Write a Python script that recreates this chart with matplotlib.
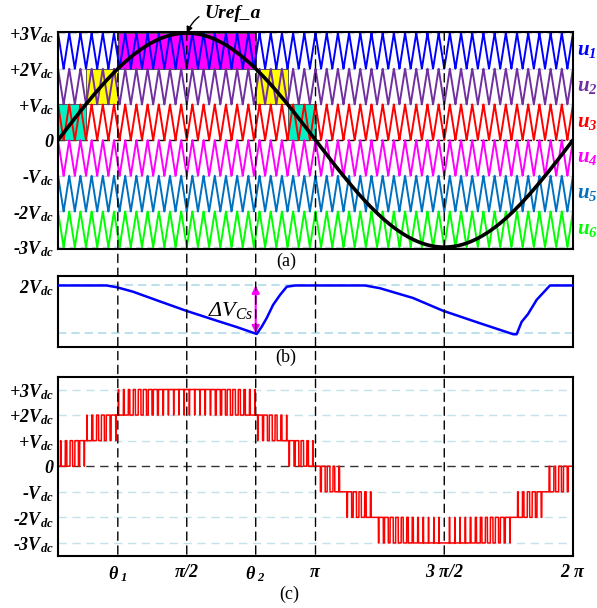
import numpy as np
import matplotlib
matplotlib.use('Agg')
import matplotlib.pyplot as plt
from matplotlib.patches import ConnectionPatch
import matplotlib.transforms as mtransforms

plt.rcParams['font.family'] = ['Liberation Serif', 'DejaVu Serif']
plt.rcParams['mathtext.fontset'] = 'custom'
plt.rcParams['mathtext.rm'] = 'Liberation Serif:bold:italic'
plt.rcParams['mathtext.it'] = 'Liberation Serif:bold:italic'
plt.rcParams['mathtext.bf'] = 'Liberation Serif:bold:italic'
plt.rcParams['mathtext.sf'] = 'Liberation Serif:italic'

# ---------------- data ----------------
level_values = [3, 2, 1, 0, -1, -2, -3]
level_labels = ['+3$V_{dc}$', '+2$V_{dc}$', '+$V_{dc}$', '0',
                '-$V_{dc}$', '-2$V_{dc}$', '-3$V_{dc}$']

carrier_names = [r'$u_1$', r'$u_2$', r'$u_3$', r'$u_4$', r'$u_5$', r'$u_6$']
carrier_lower = [2, 1, 0, -1, -2, -3]
carrier_colors = ['#0000FF', '#7030A0', '#FF0000', '#FF00FF', '#0070C0', '#00FF00']
carrier_periods = 46          # carriers drawn in panel (a)
switching_periods = 98        # switching events visible in panel (c)
ref_amplitude = 3.0

# highlighted bands in panel (a): (band lower level, start deg, end deg, colour)
fill_lower = [0, 1, 2, 1, 0]
fill_start_deg = [0.0, 19.5, 41.8, 138.2, 160.5]
fill_end_deg = [19.5, 41.8, 138.2, 160.5, 180.0]
fill_colors = ['#00F2C3', '#FFFF00', '#FF00FF', '#FFFF00', '#00F2C3']

# marker angles (deg) and labels
mark_deg = [41.8, 90.0, 138.2, 180.0, 270.0, 360.0]
mark_labels = [r'$\theta_{\ 1}$', r'$\pi/2$', r'$\theta_{\ 2}$', r'$\pi$',
               r'$3\ \pi/2$', r'$2\ \pi$']
dashed_deg = [41.8, 90.0, 138.2, 180.0, 270.0]

# capacitor voltage in panel (b) (deg, Vdc units)
cap_deg = [0, 34.0, 41.2, 52.4, 70.0, 89.5, 110.9, 125.0, 138.9, 142.4, 145.9,
           150.3, 155.2, 159.9, 165.7, 214.6, 225.1, 248.2, 269.1, 295.0,
           318.3, 320.6, 324.1, 328.5, 334.6, 343.9, 360]
cap_v = [2.0, 2.0, 1.981, 1.935, 1.84, 1.736, 1.632, 1.565, 1.493, 1.569, 1.660,
         1.796, 1.901, 1.987, 2.0, 2.0, 1.971, 1.869, 1.736, 1.605,
         1.490, 1.49, 1.62, 1.70, 1.85, 2.0, 2.0]
cap_low = 1.5
cap_nominal = 2.0

# ---------------- computations ----------------
t = np.linspace(0, 2 * np.pi, 40001)
ref = ref_amplitude * np.sin(t)


def carrier_set(n_periods):
    phase = (t * n_periods / (2 * np.pi)) % 1.0
    tri = np.abs(2 * phase - 1)
    return [lo + tri for lo in carrier_lower]


carriers = carrier_set(carrier_periods)
v_out = sum((ref > c).astype(float) for c in carrier_set(switching_periods)) - 3

fig = plt.figure(figsize=(5.97, 6.08), dpi=100)
ax_a = fig.add_axes([0.0972, 0.590, 0.8626, 0.3574])
ax_b = fig.add_axes([0.0972, 0.4293, 0.8626, 0.1173])
ax_c = fig.add_axes([0.0972, 0.0860, 0.8626, 0.2944])

for ax in (ax_a, ax_b, ax_c):
    ax.set_xlim(0, 2 * np.pi)
    for s in ax.spines.values():
        s.set_linewidth(1.5)
        s.set_color('black')
    ax.tick_params(length=0, labelsize=13, pad=3)


def style_labels(ax, axis='y'):
    labels = ax.get_yticklabels() if axis == 'y' else ax.get_xticklabels()
    for lab in labels:
        lab.set_fontweight('bold')
        lab.set_fontstyle('italic')
        lab.set_family('Liberation Serif')


# ---- panel (a) ----
ax_a.set_ylim(-3.06, 3.03)
for lo, d0, d1, col in zip(fill_lower, fill_start_deg, fill_end_deg, fill_colors):
    ax_a.fill_between(np.radians([d0, d1]), lo, lo + 1, facecolor=col,
                      edgecolor='#444444', lw=0.6, zorder=1)
for y in [3, 2, 1, -1, -2, -3]:
    ax_a.axhline(y, color='#C8D0D8', lw=1.0, ls=(0, (5, 3)), zorder=0.5)
ax_a.axhline(0, color='black', lw=1.0, ls=(0, (5, 3)), zorder=0.5)
for c, col in zip(carriers, carrier_colors):
    ax_a.plot(t, c, color=col, lw=1.4, zorder=2)
ax_a.plot(t, ref, color='black', lw=2.6, zorder=3)
ax_a.set_xticks([])
ax_a.set_yticks(level_values)
ax_a.set_yticklabels(level_labels)
style_labels(ax_a)
trans = mtransforms.blended_transform_factory(ax_a.transAxes, ax_a.transData)
for name, lo, col in zip(carrier_names, carrier_lower, carrier_colors):
    ax_a.text(1.008, lo + 0.5, name, color=col, fontsize=15, transform=trans,
              ha='left', va='center')
ax_a.annotate('Uref_a', xy=(np.pi / 2, 3.0), xytext=((204 - 58) / 515 * 2 * np.pi, 3.55),
              textcoords='data', fontsize=14, fontweight='bold', fontstyle='italic',
              ha='left', va='center', annotation_clip=False,
              arrowprops=dict(arrowstyle='-|>', color='black', lw=1.0,
                              connectionstyle='arc3,rad=0.45', shrinkA=2, shrinkB=0,
                              mutation_scale=9))

# ---- panel (b) ----
ax_b.set_ylim(1.357, 2.1025)
ax_b.axhline(cap_nominal, color='#B0DCEA', lw=1.2, ls=(0, (5, 3)))
ax_b.axhline(cap_low, color='#B0DCEA', lw=1.2, ls=(0, (5, 3)))
ax_b.plot(np.radians(cap_deg), cap_v, color='#0000FF', lw=1.8, zorder=3)
ax_b.set_xticks([])
ax_b.set_yticks([cap_nominal])
ax_b.set_yticklabels(['2$V_{dc}$'])
style_labels(ax_b)
th2 = np.radians(mark_deg[2])
ax_b.annotate('', xy=(th2, cap_low), xytext=(th2, cap_nominal),
              arrowprops=dict(arrowstyle='<|-|>', color='#FF00FF', lw=1.5,
                              mutation_scale=11, shrinkA=0, shrinkB=0), zorder=4)
ax_b.text(th2 - 0.03, 1.74, r'$\mathsf{\Delta V_{Cs}}$', fontsize=16,
          ha='right', va='center')

# ---- panel (c) ----
ax_c.set_ylim(-3.5, 3.5)
for y in [3, 2, 1, -1, -2, -3]:
    ax_c.axhline(y, color='#C5E2EC', lw=1.0, ls=(0, (6, 4)), zorder=0.5)
ax_c.axhline(0, color='#333333', lw=1.0, ls=(0, (6, 4)), zorder=0.5)
ax_c.plot(t, v_out, color='#FF0000', lw=1.1, zorder=2)
ax_c.set_yticks(level_values)
ax_c.set_yticklabels(level_labels)
style_labels(ax_c)
ax_c.set_xticks(np.radians(mark_deg))
ax_c.set_xticklabels(mark_labels)
ax_c.tick_params(axis='x', pad=6)

# vertical dashed guide lines through all panels
for d in dashed_deg:
    x = np.radians(d)
    con = ConnectionPatch(xyA=(x, 3.03), coordsA=ax_a.transData,
                          xyB=(x, -3.5), coordsB=ax_c.transData,
                          color='black', lw=1.0, linestyle=(0, (6, 4)), zorder=5)
    fig.add_artist(con)

fig.text(286 / 597, 1 - 261 / 608, '(a)', fontsize=13, ha='center', va='center',
         family='Liberation Serif')
fig.text(286 / 597, 1 - 357 / 608, '(b)', fontsize=13, ha='center', va='center',
         family='Liberation Serif')
fig.text(289 / 597, 1 - 594 / 608, '(c)', fontsize=13, ha='center', va='center',
         family='Liberation Serif')

fig.savefig('out.png', dpi=100, facecolor='white')
